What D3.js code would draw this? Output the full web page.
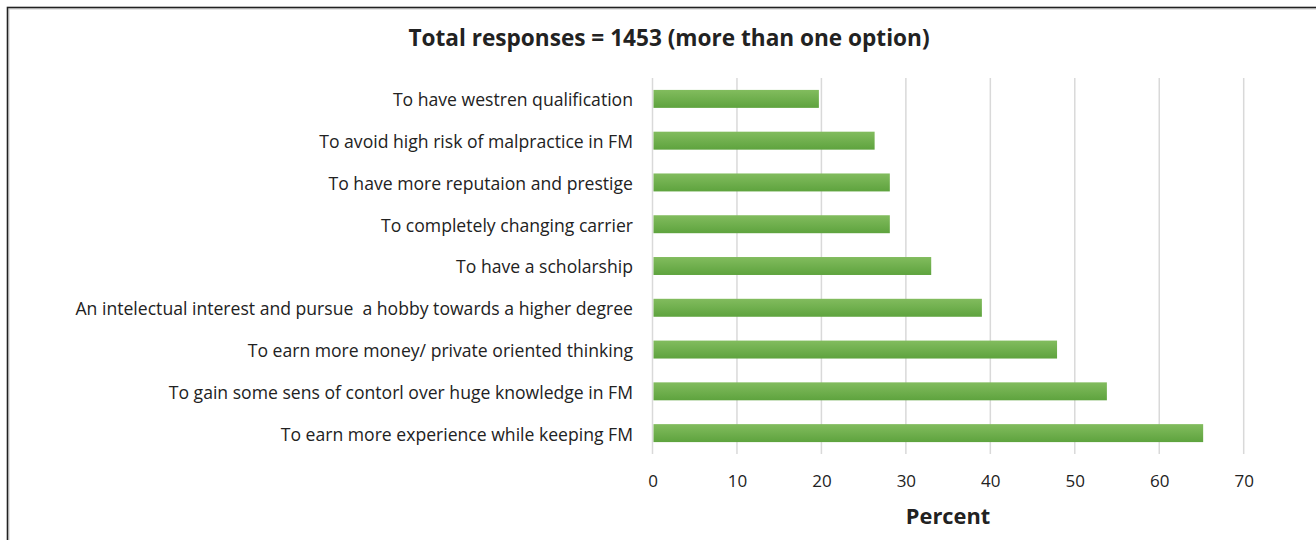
<!DOCTYPE html>
<html><head><meta charset="utf-8">
<script src="https://cdn.jsdelivr.net/npm/d3@7"></script>
<style>body{margin:0;background:#fff}svg{display:block}text{white-space:pre}</style>
</head><body>
<script>
const categories = [
  "To have westren qualification",
  "To avoid high risk of malpractice in FM",
  "To have more reputaion and prestige",
  "To completely changing carrier",
  "To have a scholarship",
  "An intelectual interest and pursue  a hobby towards a higher degree",
  "To earn more money/ private oriented thinking",
  "To gain some sens of contorl over huge knowledge in FM",
  "To earn more experience while keeping FM"
];
const values = [19.7, 26.3, 28.1, 28.1, 33.0, 39.0, 47.9, 53.8, 65.2];
const xTicks = [0, 10, 20, 30, 40, 50, 60, 70];
const title = "Total responses = 1453 (more than one option)";
const xTitle = "Percent";

const W = 1316, H = 540;
const font = "'Open Sans', sans-serif";
const svg = d3.select("body").append("svg").attr("width", W).attr("height", H);

const defs = svg.append("defs");
const g = defs.append("linearGradient").attr("id","bg").attr("x1",0).attr("x2",0).attr("y1",0).attr("y2",1);
g.append("stop").attr("offset","0%").attr("stop-color","#82bc5e");
g.append("stop").attr("offset","100%").attr("stop-color","#5ea33e");

// frame
svg.append("rect").attr("x",9).attr("y",9).attr("width",W).attr("height",H).attr("fill","none").attr("stroke","#ccc").attr("stroke-width",1);
svg.append("rect").attr("x",7.5).attr("y",7.5).attr("width",W+10).attr("height",H+10).attr("fill","none").attr("stroke","#222").attr("stroke-width",1.6);

const x = d3.scaleLinear().domain([0,70]).range([652.5,1243.7]);
const y = d3.scaleBand().domain(categories).range([78,454]).paddingInner(0.57).paddingOuter(0.285);

// gridlines
svg.append("g").selectAll("line").data(xTicks).join("line")
  .attr("x1",d=>x(d)).attr("x2",d=>x(d)).attr("y1",78).attr("y2",454)
  .attr("stroke","#d9d9d9").attr("stroke-width",1.5);

// bars
svg.append("g").selectAll("rect").data(values).join("rect")
  .attr("x",x(0)+1).attr("y",(d,i)=>y(categories[i]))
  .attr("width",d=>x(d)-x(0)-1).attr("height",y.bandwidth())
  .attr("fill","url(#bg)");

// y labels
svg.append("g").selectAll("text").data(categories).join("text")
  .attr("x",633).attr("y",d=>y(d)+y.bandwidth()/2).attr("dy","0.42em")
  .attr("text-anchor","end").attr("font-family",font).attr("font-size",17.6).attr("fill","#222")
  .text(d=>d);

// x axis labels
const xa = d3.axisBottom(x).tickValues(xTicks).tickSize(0).tickPadding(0);
const ax = svg.append("g").attr("transform","translate(0,481)").call(xa);
ax.select(".domain").remove();
ax.selectAll("text").attr("font-family",font).attr("font-size",17).attr("fill","#222").attr("dy","0.35em").attr("y",0);

svg.append("text").attr("x",948).attr("y",516).attr("dy","0.35em").attr("text-anchor","middle")
  .attr("font-family",font).attr("font-size",21.8).attr("font-weight","bold").attr("fill","#222").text(xTitle);

svg.append("text").attr("x",669).attr("y",38).attr("dy","0.35em").attr("text-anchor","middle")
  .attr("font-family",font).attr("font-size",22.6).attr("font-weight","bold").attr("fill","#222").text(title);
</script>
</body></html>
